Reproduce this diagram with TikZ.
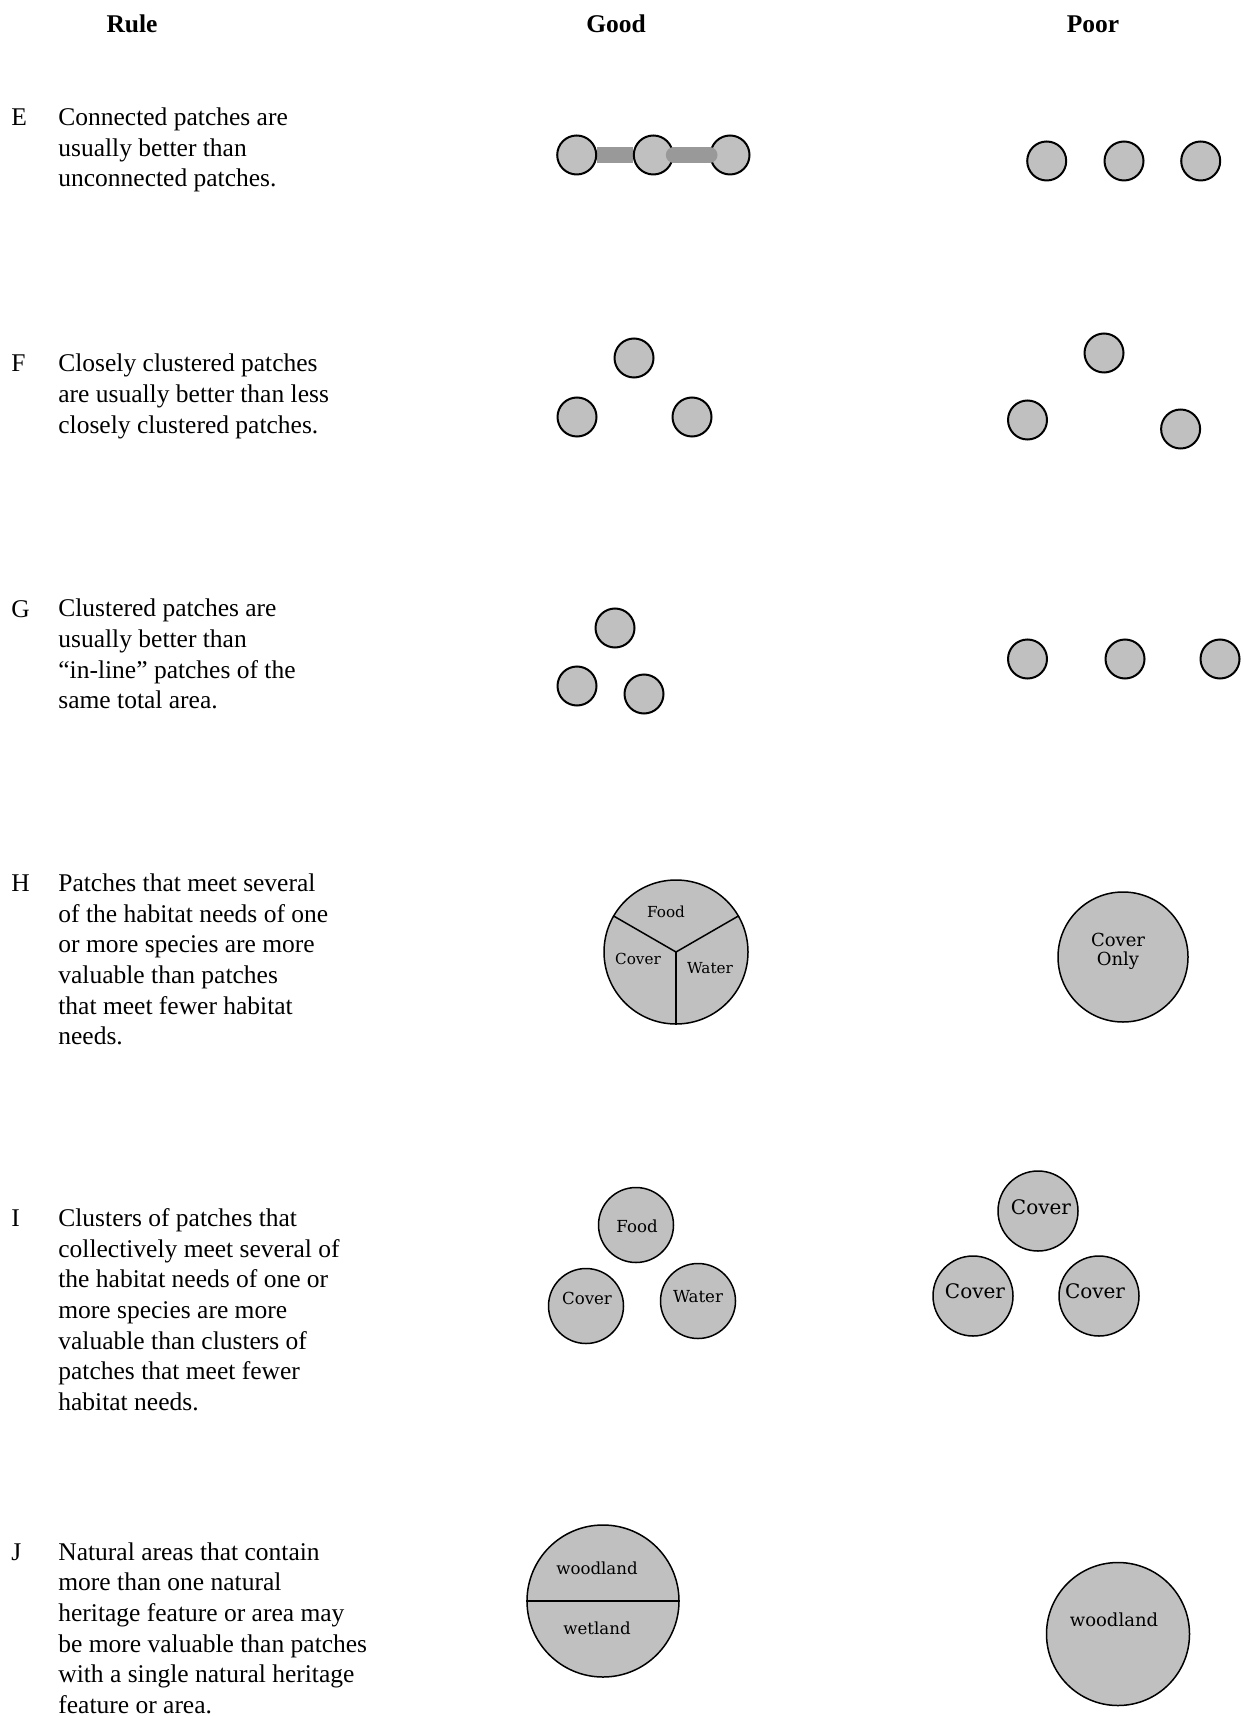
\documentclass[tikz,border=0pt]{standalone}
\usepackage{fontspec}
\setmainfont{Liberation Serif}
\newfontfamily\patchfont{DejaVu Serif}
\usetikzlibrary{backgrounds}
\definecolor{patchgray}{HTML}{C0C0C0}
\definecolor{linkgray}{HTML}{999999}
\tikzset{
	patch/.style={
		circle,
		draw,
		fill=patchgray,
		line width=1pt,
		inner sep=0pt,
		minimum size=19.5pt
	},
	bigpatch/.style={
		circle,
		draw,
		fill=patchgray,
		line width=0.75pt,
		inner sep=0pt,
		minimum size=#1
	},
	link/.style={
		draw=linkgray,
		line width=8pt
	},
	ruletext/.style={
		anchor=base west,
		align=left,
		inner sep=0pt,
		font=\fontsize{12.75}{15.32}\selectfont
	},
	colhead/.style={
		anchor=base,
		inner sep=0pt,
		font=\fontsize{12.75}{15.32}\selectfont\bfseries
	},
	tag/.style={
		inner sep=0pt,
		align=center,
		font=\patchfont\fontsize{#1}{9.5pt}\selectfont
	}
}
\begin{document}
\begin{tikzpicture}[x=0.5pt, y=-0.5pt]
\begin{pgfonlayer}{background}
\fill[white] (0,0) rectangle (1243,1716);
\end{pgfonlayer}

\node[colhead] (rulehead) at (132,32.5) {Rule};
\node[colhead] (goodhead) at (616,32.5) {Good};
\node[colhead] (poorhead) at (1093,32.5) {Poor};

\node[ruletext] (E) at (11,125.7) {E};
\node[ruletext] (Etext) at (58,187) {Connected patches are\\usually better than\\unconnected patches.};
\node[ruletext] (F) at (11,371.9) {F};
\node[ruletext] (Ftext) at (58,433.2) {Closely clustered patches\\are usually better than less\\closely clustered patches.};
\node[ruletext] (G) at (11,617) {G};
\node[ruletext] (Gtext) at (58,708.9) {Clustered patches are\\usually better than\\``in-line'' patches of the\\same total area.};
\node[ruletext] (H) at (11,891.7) {H};
\node[ruletext] (Htext) at (58,1044.9) {Patches that meet several\\of the habitat needs of one\\or more species are more\\valuable than patches\\that meet fewer habitat\\needs.};
\node[ruletext] (I) at (11,1226.5) {I};
\node[ruletext] (Itext) at (58,1410.3) {Clusters of patches that\\collectively meet several of\\the habitat needs of one or\\more species are more\\valuable than clusters of\\patches that meet fewer\\habitat needs.};
\node[ruletext] (J) at (11,1560.2) {J};
\node[ruletext] (Jtext) at (58,1713.4) {Natural areas that contain\\more than one natural\\heritage feature or area may\\be more valuable than patches\\with a single natural heritage\\feature or area.};

\foreach \x [count=\i] in {576.7, 653.3, 730} {
	\node[patch] (Eg\i) at (\x,155) {};
}
\begin{pgfonlayer}{background}
\draw[link] (Eg1) -- (Eg2);
\end{pgfonlayer}
\draw[link, line cap=round] (Eg2.east) -- (Eg3.west);
\foreach \x [count=\i] in {1046.7, 1124, 1200.7} {
	\node[patch] (Ep\i) at (\x,161) {};
}

\node[patch] (Fg1) at (634,358) {};
\node[patch] (Fg2) at (577,417) {};
\node[patch] (Fg3) at (692,417) {};
\node[patch] (Fp1) at (1104,353) {};
\node[patch] (Fp2) at (1027.5,420) {};
\node[patch] (Fp3) at (1180.6,429) {};

\node[patch] (Gg1) at (615,628) {};
\node[patch] (Gg2) at (577,686) {};
\node[patch] (Gg3) at (644,694) {};
\foreach \x [count=\i] in {1027.5, 1125, 1220} {
	\node[patch] (Gp\i) at (\x,659) {};
}

\node[bigpatch=72pt] (Hg) at (676,952) {};
\foreach \a in {30, 150, 270} {
	\draw[line width=0.75pt] (Hg.center) -- (Hg.\a);
}
\node[tag=7.6] (Hfood) at (666,912) {Food};
\node[tag=7.6] (Hcover) at (638,959) {Cover};
\node[tag=7.6] (Hwater) at (710,968) {Water};
\node[bigpatch=65pt] (Hp) at (1123,957) {};
\node[tag=9] (Honly) at (1118,951) {Cover\\Only};

\node[bigpatch=37.5pt] (Ig1) at (636,1225) {};
\node[bigpatch=37.5pt] (Ig2) at (586,1306) {};
\node[bigpatch=37.5pt] (Ig3) at (698,1301) {};
\node[tag=8.3] (Ifood) at (637,1226) {Food};
\node[tag=8.3] (Icover) at (587,1298) {Cover};
\node[tag=8.3] (Iwater) at (698,1297) {Water};
\node[bigpatch=40pt] (Ip1) at (1038,1211) {};
\node[bigpatch=40pt] (Ip2) at (973,1296) {};
\node[bigpatch=40pt] (Ip3) at (1099,1296) {};
\foreach \x/\y [count=\i] in {1041/1207, 975/1291, 1095/1291} {
	\node[tag=10] (Ipc\i) at (\x,\y) {Cover};
}

\node[bigpatch=76pt] (Jg) at (603,1601) {};
\draw[line width=0.75pt] (Jg.west) -- (Jg.east);
\node[tag=8.3] (Jgwood) at (597,1568) {woodland};
\node[tag=8.3] (Jgwet) at (597,1628) {wetland};
\node[bigpatch=71.5pt] (Jp) at (1118,1634) {};
\node[tag=9] (Jpwood) at (1114,1620) {woodland};
\end{tikzpicture}
\end{document}
